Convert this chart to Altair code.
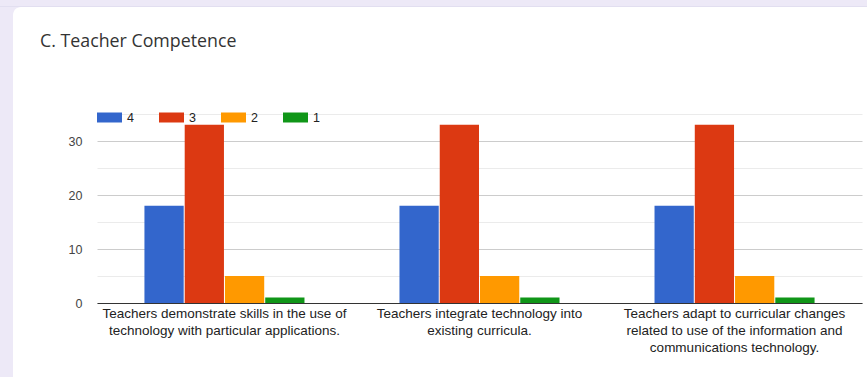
import altair as alt
import pandas as pd

# Survey responses per statement, by rating
statements = [
    "Teachers demonstrate skills in the use of|technology with particular applications.",
    "Teachers integrate technology into|existing curricula.",
    "Teachers adapt to curricular changes|related to use of the information and|communications technology.",
]
ratings = ["4", "3", "2", "1"]
counts = [
    [18, 33, 5, 1],
    [18, 33, 5, 1],
    [18, 33, 5, 1],
]
palette = ["#3366cc", "#dc3912", "#ff9900", "#109618"]

rows = []
for s, vals in zip(statements, counts):
    for r, v in zip(ratings, vals):
        rows.append({"statement": s, "rating": r, "count": v})
df = pd.DataFrame(rows)

W, H = 765, 189
PAGE = "#ede9f7"
one = alt.Data(values=[{}])


def frame_rect(x, x2, y, y2, fill, radius=0):
    return alt.Chart(one).mark_rect(fill=fill, cornerRadius=radius).encode(
        x=alt.value(x), x2=alt.value(x2), y=alt.value(y), y2=alt.value(y2)
    )


# page margin around the white card (top strip, left strip, rounded corner)
frame = [
    frame_rect(-97, W + 5, -114, -107, PAGE),
    frame_rect(-97, -84, -114, H + 74, PAGE),
    frame_rect(-97, -76, -114, -95, PAGE),
    frame_rect(-84, W + 30, -107, -86, "white", 8),
    frame_rect(-97, W + 5, -108, -107, "#e2dff0"),
]

title = alt.Chart(one).mark_text(
    text="C. Teacher Competence", align="left", baseline="middle",
    font="Open Sans", fontSize=17.8, color="#333333"
).encode(x=alt.value(-57), y=alt.value(-72))

bars = alt.Chart(df).mark_bar().encode(
    x=alt.X(
        "statement:N", sort=statements, title=None,
        scale=alt.Scale(paddingInner=0.3725, paddingOuter=0.186),
        axis=alt.Axis(
            labelExpr="split(datum.label, '|')", labelAngle=0, labelLimit=0,
            labelFont="Liberation Sans", labelFontSize=13.5, labelColor="#222222",
            labelLineHeight=17, labelPadding=3, ticks=False,
            domainColor="#333333", domainWidth=1, grid=False,
        ),
    ),
    xOffset=alt.XOffset("rating:N", sort=ratings,
                        scale=alt.Scale(paddingInner=0.025, paddingOuter=0)),
    y=alt.Y(
        "count:Q", title=None,
        scale=alt.Scale(domain=[0, 35], nice=False),
        axis=alt.Axis(
            values=[0, 5, 10, 15, 20, 25, 30, 35],
            labelExpr="datum.value % 10 === 0 && datum.value < 35 ? datum.label : ''",
            labelFont="Liberation Sans", labelFontSize=12.5, labelColor="#444444",
            labelPadding=15, ticks=False, domain=False,
            gridColor={"condition": {"test": "datum.value % 10 === 0 && datum.value < 35", "value": "#cccccc"},
                       "value": "#ebebeb"},
        ),
    ),
    color=alt.Color(
        "rating:N", sort=ratings,
        scale=alt.Scale(domain=ratings, range=palette),
        legend=alt.Legend(
            title=None, orient="none", legendX=0, legendY=-9, direction="horizontal",
            columns=4, symbolType="M-1,-0.4H1V0.4H-1Z", symbolSize=625,
            symbolStrokeWidth=0, labelFont="Liberation Sans", labelFontSize=12.5,
            labelColor="#222222", labelOffset=5, columnPadding=25,
        ),
    ),
)

chart = alt.layer(*frame, title, bars).properties(
    width=W, height=H,
    autosize=alt.AutoSizeParams(type="none"),
    padding={"left": 97, "top": 114, "right": 5, "bottom": 74},
    background="white",
).configure_view(stroke=None)

chart.save("out.html", embed_options={"renderer": "svg", "actions": False})
